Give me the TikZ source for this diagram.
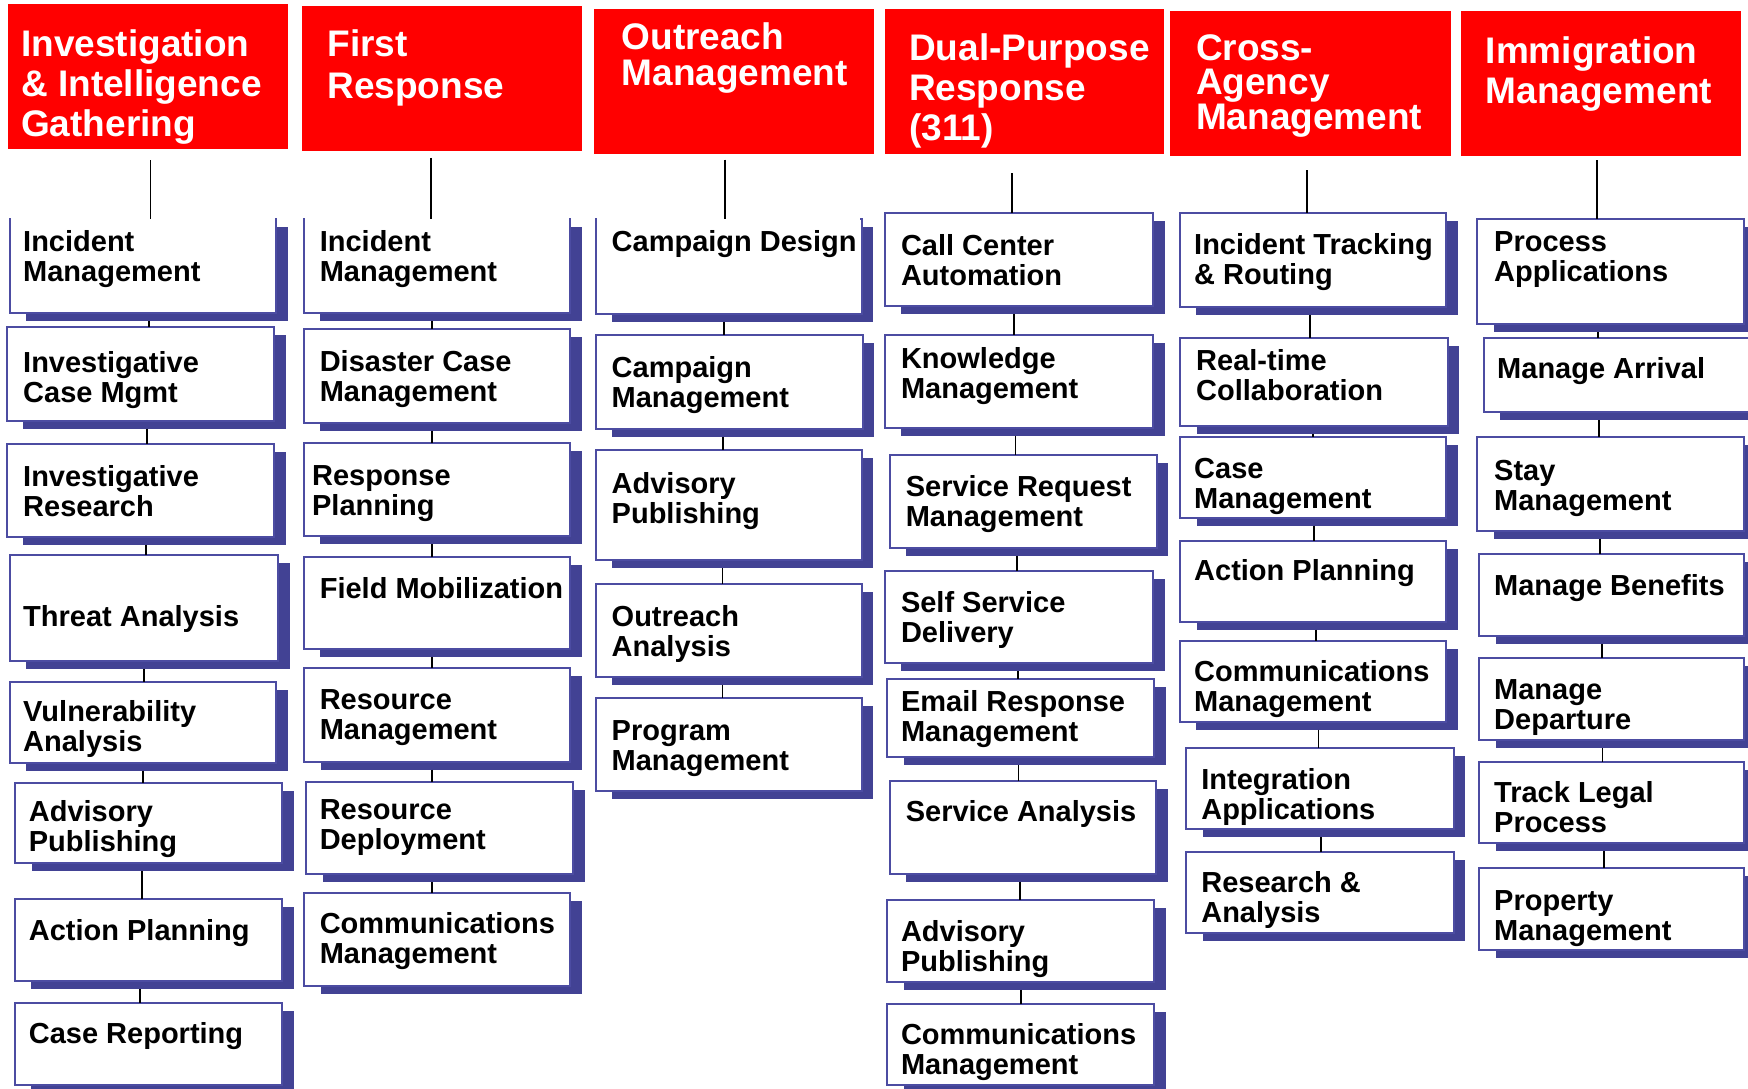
\documentclass[tikz,border=0pt]{standalone}
\usepackage{fontspec}
\setmainfont{Liberation Sans}
\definecolor{hdrred}{RGB}{255,0,0}
\definecolor{shad}{RGB}{66,66,148}
\definecolor{frm}{RGB}{76,76,162}
\tikzset{
  box/.style={draw=frm, line width=2pt, fill=white, anchor=north west, inner sep=0pt, outer sep=0pt},
  hdr/.style={fill=hdrred, draw=none, anchor=north west, inner sep=0pt, outer sep=0pt},
  txt/.style={anchor=base west, align=left, inner sep=0pt, text=black, font=\bfseries\fontsize{29}{30}\selectfont},
  htxt/.style={anchor=base west, align=left, inner sep=0pt, text=white},
  conn/.style={draw=black, line width=1.8pt},
  eraser/.style={draw=white, line width=2.6pt}
}
% box: name, L, T, R, B, text x, last baseline, text
\newcommand\bx[8]{%
  \fill[shad] ({#2+16.5},{#3+8}) rectangle ({#4+11.5},{#5+8});
  \node[box, minimum width={#4-#2}, minimum height={#5-#3}] (#1) at (#2,#3) {};
  \node[txt] (#1t) at (#6,#7) {#8};
}
% header: name, L, T, R, B, text x, last baseline, leading, text
\newcommand\hd[9]{%
  \node[hdr, minimum width={#4-#2}, minimum height={#5-#3}] (#1) at (#2,#3) {};
  \node[htxt, font=\bfseries\fontsize{37}{#8}\selectfont] (#1t) at (#6,#7) {#9};
}
% connector: upper box, lower box, x
\newcommand\cn[3]{%
  \coordinate (tmpx) at (#3,0);
  \coordinate (tmpa) at ([yshift=-8pt]#1.south);
  \draw[conn] (tmpa -| tmpx) -- (#2.north -| tmpx);
}
% header connector: name of start coordinate, x, y, box
\newcommand\hc[4]{%
  \coordinate (#1) at (#2,#3);
  \draw[conn] (#1) -- (#4.north -| #1);
}
\begin{document}
\begin{tikzpicture}[x=1pt, y=-1pt]
\useasboundingbox (0,0) rectangle (1748,1089);

% ---------- headers ----------
\hd{h1}{7.7}{4}{287.8}{149}{21}{136.7}{40}{Investigation\\\& Intelligence\\Gathering}
\hd{h2}{302}{5.7}{581.7}{151}{327.2}{98.2}{41.5}{First\\Response}
\hd{h3}{594.4}{8.9}{874.1}{154.3}{621.4}{85.7}{35.7}{Outreach\\Management}
\hd{h4}{884.9}{9.5}{1164.2}{154.3}{908.9}{140.7}{40}{Dual-Purpose\\Response\\(311)}
\hd{h5}{1170.2}{11}{1450.5}{156}{1195.8}{130}{35}{Cross-\\Agency\\Management}
\hd{h6}{1460.8}{11}{1741.2}{156}{1485.6}{103.3}{40}{Immigration\\Management}

% ---------- column 1 ----------
\bx{c1b1}{9.6}{219}{276.3}{313}{23}{281.7}{Incident\\Management}
\bx{c1b2}{6.9}{326.7}{274.4}{420.7}{23}{402.3}{Investigative\\Case Mgmt}
\bx{c1b3}{6.9}{444}{274.4}{536.7}{23}{516}{Investigative\\Research}
\bx{c1b4}{9.6}{555}{278}{660.7}{23}{626}{Threat Analysis}
\bx{c1b5}{9.6}{681.7}{276.3}{762.7}{23}{751.7}{Vulnerability\\Analysis}
\bx{c1b6}{15.3}{782.7}{282.4}{863.3}{28.7}{851.7}{Advisory\\Publishing}
\bx{c1b7}{14.5}{899}{282}{981}{28.7}{940.7}{Action Planning}
\bx{c1b8}{14.5}{1003}{282}{1085}{28.7}{1043.3}{Case Reporting}

% ---------- column 2 ----------
\bx{c2b1}{303.5}{219}{570.2}{313}{319.6}{281.7}{Incident\\Management}
\bx{c2b2}{303.5}{329.3}{570.2}{422.7}{319.6}{401}{Disaster Case\\Management}
\bx{c2b3}{303.5}{443.3}{570.2}{536}{311.9}{515}{Response\\Planning}
\bx{c2b4}{303.5}{556.7}{570.2}{649.3}{319.6}{598.3}{Field Mobilization}
\bx{c2b5}{304.2}{668.3}{570.2}{761.7}{319.6}{739.3}{Resource\\Management}
\bx{c2b6}{306.2}{781.7}{573.3}{874}{319.6}{849.3}{Resource\\Deployment}
\bx{c2b7}{304}{892.7}{570}{986}{319.6}{963.3}{Communications\\Management}

% ---------- column 3 ----------
\bx{c3b1}{595.5}{218.6}{861.9}{313.6}{611.5}{251.8}{Campaign Design}
\bx{c3b2}{595.5}{335}{862.5}{428.6}{611.5}{407.1}{Campaign\\Management}
\bx{c3b3}{595.5}{450}{861.9}{560.3}{611.5}{523.2}{Advisory\\Publishing}
\bx{c3b4}{595.5}{583.8}{861.9}{676.6}{611.5}{656.2}{Outreach\\Analysis}
\bx{c3b5}{595.5}{697.6}{861.9}{791.4}{611.5}{770.4}{Program\\Management}

% ---------- column 4 ----------
\bx{c4b1}{884.9}{213.2}{1153.1}{306.4}{900.8}{285}{Call Center\\Automation}
\bx{c4b2}{884.9}{334.6}{1153.1}{427.5}{900.8}{398.2}{Knowledge\\Management}
\bx{c4b3}{889.7}{454.6}{1156.8}{547.9}{905.6}{526.8}{Service Request\\Management}
\bx{c4b4}{884.9}{570.5}{1153.1}{663.2}{900.8}{642.6}{Self Service\\Delivery}
\bx{c4b5}{887.1}{679}{1154.2}{757.1}{900.8}{741.3}{Email Response\\Management}
\bx{c4b6}{889.7}{780.5}{1156}{873.7}{905.6}{821.9}{Service Analysis}
\bx{c4b7}{887.1}{899.6}{1154.2}{981.9}{900.8}{971.4}{Advisory\\Publishing}
\bx{c4b8}{887.1}{1003.9}{1154.2}{1085}{900.8}{1074}{Communications\\Management}

% ---------- column 5 ----------
\bx{c5b1}{1179.9}{212.7}{1446.4}{306.7}{1194}{284}{Incident Tracking\\\& Routing}
\bx{c5b2}{1180}{337.7}{1447.5}{426}{1196}{400}{Real-time\\Collaboration}
\bx{c5b3}{1180}{436.7}{1446.4}{517.7}{1194}{508.3}{Case\\Management}
\bx{c5b4}{1180}{541}{1446.4}{621.7}{1194}{580}{Action Planning}
\bx{c5b5}{1179.9}{640.7}{1446.4}{721.7}{1194}{711.7}{Communications\\Management}
\bx{c5b6}{1186.2}{747.7}{1453.8}{829.3}{1201.1}{819.3}{Integration\\Applications}
\bx{c5b7}{1186.2}{851.7}{1453.8}{932.7}{1201.1}{922.7}{Research \&\\Analysis}

% ---------- column 6 ----------
\bx{c6b1}{1477.3}{219.3}{1744.2}{324}{1494}{281}{Process\\Applications}
\bx{c6b2}{1483.6}{338.3}{1750.5}{412.3}{1497}{378.3}{Manage Arrival}
\bx{c6b3}{1477.3}{436.7}{1744.2}{530.7}{1494}{510}{Stay\\Management}
\bx{c6b4}{1479.1}{554.3}{1744.2}{635.7}{1494}{595}{Manage Benefits}
\bx{c6b5}{1479.1}{658.3}{1744.2}{740}{1494}{729.3}{Manage\\Departure}
\bx{c6b6}{1479.1}{761.7}{1744.2}{843.3}{1494}{832.7}{Track Legal\\Process}
\bx{c6b7}{1479.1}{868.3}{1744.2}{950}{1494}{940}{Property\\Management}

% first boxes of columns 1-3 show no top edge
\draw[eraser] ([xshift=1.5pt]c1b1.north west) -- ([xshift=-1.5pt]c1b1.north east);
\draw[eraser] ([xshift=1.5pt]c2b1.north west) -- ([xshift=-1.5pt]c2b1.north east);
\draw[eraser] ([xshift=1.5pt]c3b1.north west) -- ([xshift=-1.5pt]c3b1.north east);

% ---------- connectors ----------
\hc{h1c}{150.4}{160}{c1b1}
\hc{h2c}{431.3}{158}{c2b1}
\hc{h3c}{724.7}{159.6}{c3b1}
\hc{h4c}{1012.1}{173.2}{c4b1}
\hc{h5c}{1306.7}{170}{c5b1}
\hc{h6c}{1597}{160}{c6b1}

\cn{c1b1}{c1b2}{148.9}
\cn{c1b2}{c1b3}{147.3}
\cn{c1b3}{c1b4}{145.8}
\cn{c1b4}{c1b5}{144.3}
\cn{c1b5}{c1b6}{142.7}
\cn{c1b6}{c1b7}{141.6}
\cn{c1b7}{c1b8}{140}

\cn{c2b1}{c2b2}{431.7}
\cn{c2b2}{c2b3}{431.7}
\cn{c2b3}{c2b4}{431.7}
\cn{c2b4}{c2b5}{431.7}
\cn{c2b5}{c2b6}{431.7}
\cn{c2b6}{c2b7}{431.7}

\cn{c3b1}{c3b2}{723.9}
\cn{c3b2}{c3b3}{723.2}
\cn{c3b3}{c3b4}{722.4}
\cn{c3b4}{c3b5}{722.4}

\cn{c4b1}{c4b2}{1013.6}
\cn{c4b2}{c4b3}{1015.4}
\cn{c4b3}{c4b4}{1016.6}
\cn{c4b4}{c4b5}{1017.7}
\cn{c4b5}{c4b6}{1018.4}
\cn{c4b6}{c4b7}{1019.9}
\cn{c4b7}{c4b8}{1021}

\cn{c5b1}{c5b2}{1309.6}
\cn{c5b2}{c5b3}{1312.6}
\cn{c5b3}{c5b4}{1314.1}
\cn{c5b4}{c5b5}{1316.3}
\cn{c5b5}{c5b6}{1318.5}
\cn{c5b6}{c5b7}{1320.8}

\cn{c6b1}{c6b2}{1598}
\cn{c6b2}{c6b3}{1599.2}
\cn{c6b3}{c6b4}{1600.3}
\cn{c6b4}{c6b5}{1601.8}
\cn{c6b5}{c6b6}{1602.5}
\cn{c6b6}{c6b7}{1603.7}
\end{tikzpicture}
\end{document}
